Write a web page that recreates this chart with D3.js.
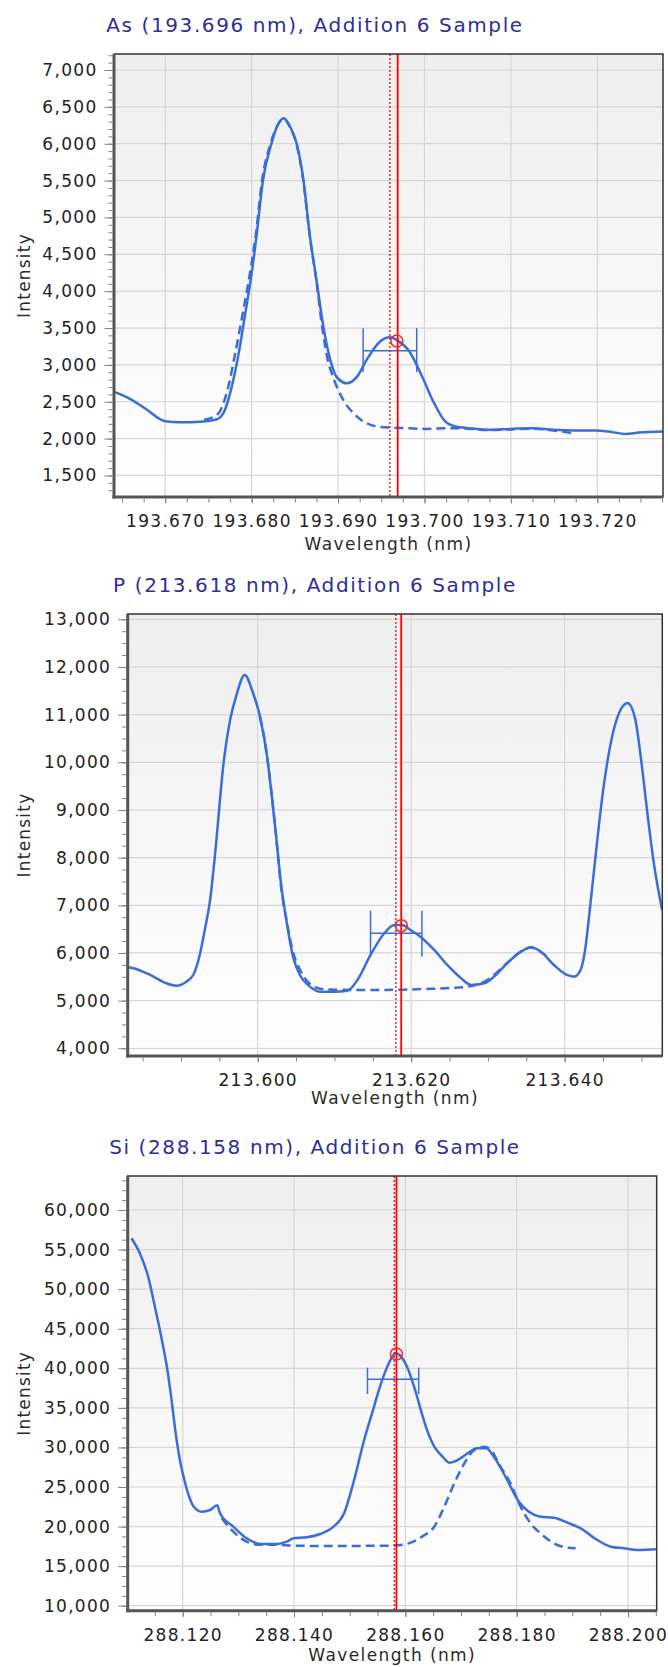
<!DOCTYPE html>
<html>
<head>
<meta charset="utf-8">
<script src="https://d3js.org/d3.v7.min.js"></script>
<style>
  body { margin: 0; background: #fff; }
  svg text { font-family: "DejaVu Sans", Verdana, sans-serif; }
</style>
</head>
<body>
<div id="viz"></div>
<script>
// ---- As (193.696 nm) ----
var asSolid = [
  [193.6641, 2635], [193.6657, 2553], [193.6676, 2416], [193.6700, 2235], [193.6716, 2222],
  [193.6741, 2230], [193.6760, 2262], [193.6769, 2388], [193.6777, 2705], [193.6785, 3157],
  [193.6792, 3653], [193.6800, 4242], [193.6806, 4785], [193.6813, 5498], [193.6823, 6006],
  [193.6830, 6250], [193.6837, 6345], [193.6845, 6220], [193.6852, 6006], [193.6860, 5498],
  [193.6867, 4785], [193.6875, 4152], [193.6883, 3519], [193.6891, 3067], [193.6898, 2841],
  [193.6910, 2751], [193.6922, 2841], [193.6933, 3067], [193.6948, 3310], [193.6960, 3374],
  [193.6969, 3329], [193.6982, 3192], [193.6997, 2849], [193.7011, 2484], [193.7024, 2233],
  [193.7036, 2164], [193.7051, 2142], [193.7075, 2119], [193.7100, 2132], [193.7125, 2142],
  [193.7149, 2119], [193.7174, 2110], [193.7199, 2110], [193.7213, 2096], [193.7233, 2064],
  [193.7248, 2082], [193.7276, 2096]
];
var asFit = [
  [193.6745, 2255], [193.6755, 2290], [193.6763, 2365], [193.6773, 2705], [193.6781, 3157],
  [193.6789, 3653], [193.6798, 4242], [193.6805, 4785], [193.6812, 5498], [193.6822, 6006],
  [193.6830, 6250], [193.6837, 6335], [193.6845, 6210], [193.6852, 5990], [193.6860, 5480],
  [193.6867, 4770], [193.6875, 4130], [193.6882, 3480], [193.6888, 3070], [193.6894, 2841],
  [193.6906, 2525], [193.6922, 2299], [193.6945, 2164], [193.6977, 2142], [193.7001, 2132],
  [193.7026, 2142], [193.7051, 2135], [193.7075, 2115], [193.7100, 2125], [193.7125, 2135],
  [193.7149, 2110], [193.7171, 2075]
];
var asErrX = [193.6929, 193.6991];
var asErrY = [2904, 3192, 3498];
var asPeak = [193.6968, 3324];
var asMarks = [193.696, 193.6969];
var asXDomain = [193.66407, 193.72760];
var asYDomain = [1208, 7217];
var asXTicks = [193.670, 193.680, 193.690, 193.700, 193.710, 193.720];
var asYTicks = [1500, 2000, 2500, 3000, 3500, 4000, 4500, 5000, 5500, 6000, 6500, 7000];

// ---- P (213.618 nm) ----
var pSolid = [
  [213.5831, 5700], [213.5838, 5679], [213.5860, 5538], [213.5881, 5364], [213.5894, 5314],
  [213.5907, 5398], [213.5916, 5538], [213.5925, 5994], [213.5931, 6482], [213.5938, 7111],
  [213.5944, 8000], [213.5956, 10049], [213.5964, 10888], [213.5973, 11448], [213.5983, 11832],
  [213.5994, 11448], [213.6003, 10957], [213.6012, 10150], [213.6018, 9350], [213.6024, 8450],
  [213.6030, 7500], [213.6038, 6623], [213.6046, 5922], [213.6055, 5538], [213.6068, 5293],
  [213.6081, 5188], [213.6099, 5188], [213.6117, 5209], [213.6130, 5433], [213.6147, 5958],
  [213.6165, 6413], [213.6178, 6587], [213.6188, 6587], [213.6199, 6482], [213.6212, 6342],
  [213.6230, 6063], [213.6247, 5748], [213.6265, 5469], [213.6278, 5329], [213.6295, 5364],
  [213.6308, 5503], [213.6325, 5783], [213.6343, 6027], [213.6356, 6120], [213.6369, 6027],
  [213.6386, 5748], [213.6403, 5538], [213.6412, 5503], [213.6420, 5620], [213.6426, 6000],
  [213.6432, 6800], [213.6440, 8000], [213.6450, 9400], [213.6460, 10400], [213.6470, 11000],
  [213.6482, 11242], [213.6492, 10900], [213.6500, 10000], [213.6508, 8900], [213.6516, 7900],
  [213.6527, 6900]
];
var pFit = [
  [213.6003, 10957], [213.6012, 10150], [213.6018, 9350], [213.6024, 8450], [213.6030, 7450],
  [213.6038, 6650], [213.6046, 6020], [213.6055, 5650], [213.6068, 5350], [213.6081, 5250],
  [213.6100, 5230], [213.6130, 5224], [213.6160, 5224], [213.6190, 5230], [213.6220, 5245],
  [213.6250, 5265], [213.6273, 5293], [213.6299, 5433], [213.6325, 5790], [213.6343, 6030],
  [213.6356, 6115], [213.6369, 6020], [213.6377, 5922]
];
var pErrX = [213.6147, 213.6214];
var pErrY = [5922, 6413, 6887];
var pPeak = [213.6187, 6573];
var pMarks = [213.618, 213.6187];
var pXDomain = [213.58306, 213.65272];
var pYDomain = [3838, 13111];
var pXTicks = [213.600, 213.620, 213.640];
var pYTicks = [4000, 5000, 6000, 7000, 8000, 9000, 10000, 11000, 12000, 13000];

// ---- Si (288.158 nm) ----
var siSolid = [
  [288.1108, 56424], [288.1123, 54528], [288.1138, 51571], [288.1150, 47781], [288.1162, 43800],
  [288.1172, 40000], [288.1180, 36000], [288.1187, 32000], [288.1195, 28400], [288.1204, 25600],
  [288.1212, 23700], [288.1220, 22500], [288.1234, 21878], [288.1249, 22093], [288.1262, 22700],
  [288.1267, 21676], [288.1291, 19983], [288.1315, 18517], [288.1339, 17797], [288.1369, 17797],
  [288.1387, 18088], [288.1399, 18517], [288.1423, 18643], [288.1447, 19060], [288.1471, 19983],
  [288.1490, 21676], [288.1508, 25885], [288.1526, 30939], [288.1541, 34500], [288.1555, 37800],
  [288.1567, 40100], [288.1576, 41400], [288.1583, 41893], [288.1592, 41500], [288.1603, 40200],
  [288.1617, 37400], [288.1630, 34200], [288.1640, 32000], [288.1652, 30095], [288.1667, 28831],
  [288.1679, 28073], [288.1694, 28410], [288.1712, 29253], [288.1729, 29885], [288.1745, 29885],
  [288.1759, 28831], [288.1783, 25885], [288.1804, 23143], [288.1822, 21878], [288.1843, 21246],
  [288.1867, 21120], [288.1891, 20488], [288.1915, 19780], [288.1945, 18301], [288.1969, 17459],
  [288.1993, 17257], [288.2017, 17043], [288.2052, 17130]
];
var siFit = [
  [288.1270, 21044], [288.1291, 19350], [288.1315, 18088], [288.1339, 17700], [288.1369, 17700],
  [288.1399, 17586], [288.1471, 17543], [288.1530, 17560], [288.1576, 17586], [288.1606, 17880],
  [288.1630, 18727], [288.1652, 19983], [288.1670, 22511], [288.1688, 25463], [288.1706, 27989],
  [288.1724, 29675], [288.1742, 30095], [288.1756, 29464], [288.1771, 27564], [288.1789, 25463],
  [288.1807, 22511], [288.1825, 20406], [288.1843, 19140], [288.1867, 17880], [288.1891, 17332],
  [288.1906, 17257]
];
var siErrX = [288.1532, 288.1624];
var siErrY = [36744, 38608, 40072];
var siPeak = [288.1584, 41800];
var siMarks = [288.158, 288.1584];
var siXDomain = [288.11012, 288.20516];
var siYDomain = [9368, 64296];
var siXTicks = [288.120, 288.140, 288.160, 288.180, 288.200];
var siYTicks = [10000, 15000, 20000, 25000, 30000, 35000, 40000, 45000, 50000, 55000, 60000];

var blue = '#3a6ed6';

var svg = d3.select('#viz').append('svg')
    .attr('width', 668)
    .attr('height', 1667);

var grad = svg.append('defs').append('linearGradient')
    .attr('id', 'plotbg')
    .attr('x1', 0).attr('y1', 0).attr('x2', 0).attr('y2', 1);
grad.append('stop').attr('offset', 0).attr('stop-color', '#eeeeee');
grad.append('stop').attr('offset', 1).attr('stop-color', '#ffffff');

var charts = [
  {id: 'as', title: 'As (193.696 nm), Addition 6 Sample',
   left: 114, right: 663, top: 54, bottom: 497, xLabelY: 550,
   solid: asSolid, fit: asFit, errX: asErrX, errY: asErrY, peak: asPeak, marks: asMarks,
   xDomain: asXDomain, yDomain: asYDomain, xTicks: asXTicks, yTicks: asYTicks,
   xMinorStep: 0.0025, yMinorStep: 100},
  {id: 'p', title: 'P (213.618 nm), Addition 6 Sample',
   left: 127.7, right: 662.3, top: 614, bottom: 1056, xLabelY: 1104,
   solid: pSolid, fit: pFit, errX: pErrX, errY: pErrY, peak: pPeak, marks: pMarks,
   xDomain: pXDomain, yDomain: pYDomain, xTicks: pXTicks, yTicks: pYTicks,
   xMinorStep: 0.005, yMinorStep: 250},
  {id: 'si', title: 'Si (288.158 nm), Addition 6 Sample',
   left: 127.7, right: 656.7, top: 1176, bottom: 1610.7, xLabelY: 1661,
   solid: siSolid, fit: siFit, errX: siErrX, errY: siErrY, peak: siPeak, marks: siMarks,
   xDomain: siXDomain, yDomain: siYDomain, xTicks: siXTicks, yTicks: siYTicks,
   xMinorStep: 0.005, yMinorStep: 1250}
];

charts.forEach(drawChart);

function minorValues(domain, step){
  var lo = Math.ceil(domain[0] / step - 1e-6), hi = Math.floor(domain[1] / step + 1e-6);
  return d3.range(lo, hi + 1).map(function(i){ return i * step; });
}

function styleAxis(a){
  a.select('.domain').remove();
  a.selectAll('line').attr('stroke', '#808080').attr('stroke-width', 1);
  a.selectAll('text')
    .attr('fill', '#222')
    .style('font-size', '17px')
    .style('letter-spacing', '1.3px');
}

function drawChart(c){
  var g = svg.append('g');
  var w = c.right - c.left, h = c.bottom - c.top;
  var x = d3.scaleLinear().domain(c.xDomain).range([c.left, c.right]);
  var y = d3.scaleLinear().domain(c.yDomain).range([c.bottom, c.top]);

  g.append('rect')
    .attr('x', c.left).attr('y', c.top)
    .attr('width', w).attr('height', h)
    .attr('fill', 'url(#plotbg)');

  // grid
  g.selectAll('.hgrid').data(c.yTicks).enter().append('line')
    .attr('x1', c.left).attr('x2', c.right)
    .attr('y1', function(d){ return y(d); })
    .attr('y2', function(d){ return y(d); })
    .attr('stroke', '#d6d6d6').attr('stroke-width', 1.2);
  g.selectAll('.vgrid').data(c.xTicks).enter().append('line')
    .attr('y1', c.top).attr('y2', c.bottom)
    .attr('x1', function(d){ return x(d); })
    .attr('x2', function(d){ return x(d); })
    .attr('stroke', '#d6d6d6').attr('stroke-width', 1.2);

  g.append('clipPath').attr('id', 'clip-' + c.id)
    .append('rect')
    .attr('x', c.left).attr('y', c.top)
    .attr('width', w).attr('height', h);
  var plot = g.append('g').attr('clip-path', 'url(#clip-' + c.id + ')');

  var line = d3.line()
    .x(function(d){ return x(d[0]); })
    .y(function(d){ return y(d[1]); })
    .curve(d3.curveMonotoneX);

  plot.append('path').datum(c.fit)
    .attr('d', line)
    .attr('fill', 'none')
    .attr('stroke', blue)
    .attr('stroke-width', 2.5)
    .attr('stroke-dasharray', '9,5');
  plot.append('path').datum(c.solid)
    .attr('d', line)
    .attr('fill', 'none')
    .attr('stroke', blue)
    .attr('stroke-width', 2.5)
    .attr('stroke-linejoin', 'round');

  // error bar
  plot.append('line')
    .attr('x1', x(c.errX[0])).attr('x2', x(c.errX[1]))
    .attr('y1', y(c.errY[1])).attr('y2', y(c.errY[1]))
    .attr('stroke', blue).attr('stroke-width', 1.5);
  plot.selectAll('.cap').data(c.errX).enter().append('line')
    .attr('x1', function(d){ return x(d); })
    .attr('x2', function(d){ return x(d); })
    .attr('y1', y(c.errY[0])).attr('y2', y(c.errY[2]))
    .attr('stroke', blue).attr('stroke-width', 1.5);

  // red markers
  plot.append('line')
    .attr('x1', x(c.marks[0])).attr('x2', x(c.marks[0]))
    .attr('y1', c.top).attr('y2', c.bottom)
    .attr('stroke', '#ff0000').attr('stroke-width', 1.3)
    .attr('stroke-dasharray', '2,2');
  plot.append('line')
    .attr('x1', x(c.marks[1])).attr('x2', x(c.marks[1]))
    .attr('y1', c.top).attr('y2', c.bottom)
    .attr('stroke', '#ff0000').attr('stroke-width', 1.8);
  plot.append('circle')
    .attr('cx', x(c.peak[0])).attr('cy', y(c.peak[1]))
    .attr('r', 6)
    .attr('fill', 'none')
    .attr('stroke', '#ff2020').attr('stroke-width', 1.5);

  // frame
  g.append('rect')
    .attr('x', c.left).attr('y', c.top)
    .attr('width', w).attr('height', h)
    .attr('fill', 'none')
    .attr('stroke', '#333').attr('stroke-width', 1.5);
  g.append('line')
    .attr('x1', c.left).attr('x2', c.left)
    .attr('y1', c.top).attr('y2', c.bottom + 1.5)
    .attr('stroke', '#555').attr('stroke-width', 3);
  g.append('line')
    .attr('x1', c.left - 1.5).attr('x2', c.right)
    .attr('y1', c.bottom).attr('y2', c.bottom)
    .attr('stroke', '#555').attr('stroke-width', 3);

  // y axis
  var yMinor = g.append('g')
    .attr('transform', 'translate(' + (c.left - 1.5) + ',0)')
    .call(d3.axisLeft(y).tickValues(minorValues(c.yDomain, c.yMinorStep)).tickSize(4).tickFormat(''));
  styleAxis(yMinor);
  var yAxis = g.append('g')
    .attr('transform', 'translate(' + (c.left - 1.5) + ',0)')
    .call(d3.axisLeft(y).tickValues(c.yTicks).tickSize(8).tickPadding(7).tickFormat(d3.format(',')));
  styleAxis(yAxis);

  // x axis
  var xMinor = g.append('g')
    .attr('transform', 'translate(0,' + (c.bottom + 1.5) + ')')
    .call(d3.axisBottom(x).tickValues(minorValues(c.xDomain, c.xMinorStep)).tickSize(4).tickFormat(''));
  styleAxis(xMinor);
  var xAxis = g.append('g')
    .attr('transform', 'translate(0,' + (c.bottom + 1.5) + ')')
    .call(d3.axisBottom(x).tickValues(c.xTicks).tickSize(5).tickFormat(d3.format('.3f')));
  styleAxis(xAxis);
  xAxis.selectAll('text').attr('y', 28.5).attr('dy', 0);

  // labels
  g.append('text')
    .attr('x', 315)
    .attr('y', c.top - 21.7)
    .attr('text-anchor', 'middle')
    .attr('fill', '#2e2e99')
    .style('font-size', '20px')
    .style('letter-spacing', '1.6px')
    .text(c.title);

  g.append('text')
    .attr('transform', 'translate(30,' + ((c.top + c.bottom) / 2) + ') rotate(-90)')
    .attr('text-anchor', 'middle')
    .attr('fill', '#2a2a2a')
    .style('font-size', '17px')
    .style('letter-spacing', '1.2px')
    .text('Intensity');

  g.append('text')
    .attr('x', (c.left + c.right) / 2)
    .attr('y', c.xLabelY)
    .attr('text-anchor', 'middle')
    .attr('fill', '#2a2a2a')
    .style('font-size', '17px')
    .style('letter-spacing', '1.4px')
    .text('Wavelength (nm)');
}
</script>
</body>
</html>
